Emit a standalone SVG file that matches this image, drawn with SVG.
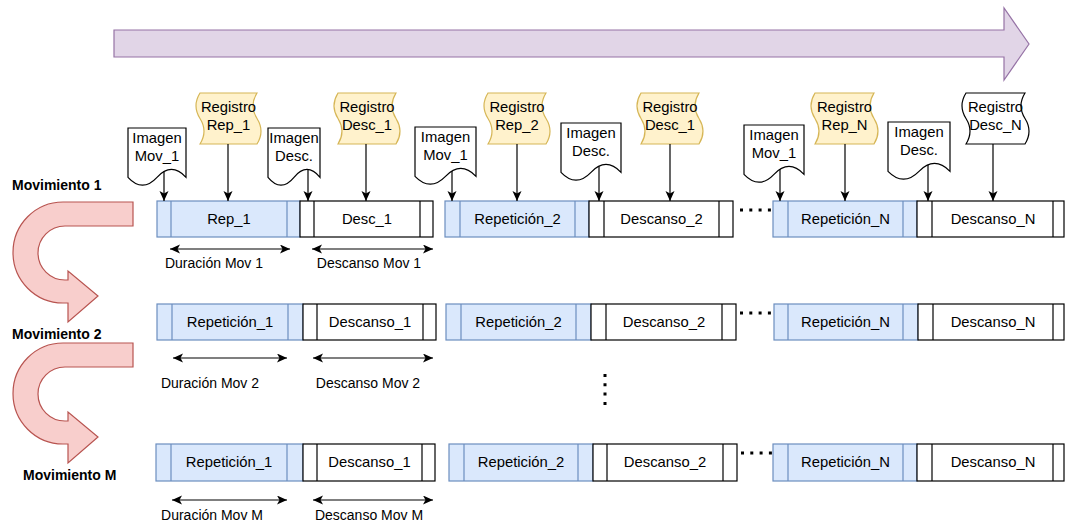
<svg xmlns="http://www.w3.org/2000/svg" width="1065" height="522" viewBox="0 0 1065 522">
  <defs>
    <style>
      text { font-family: "Liberation Sans", Arial, Helvetica, sans-serif; font-size: 14.8px; fill: #000; }
      .c { text-anchor: middle; }
      .b { font-weight: bold; font-size: 14px; }
      .cap { font-size: 14px; }
      .rep { fill: #dae8fc; stroke: #6c8ebf; stroke-width: 1.2; }
      .rep-l { stroke: #6c8ebf; stroke-width: 1.2; }
      .desc { fill: #ffffff; stroke: #000; stroke-width: 1.2; }
      .desc-l { stroke: #000; stroke-width: 1.2; }
      .doc { fill: #ffffff; stroke: #000; stroke-width: 1.2; }
      .tape { fill: #fff2cc; stroke: #d6b656; stroke-width: 1.2; }
      .tape-w { fill: #ffffff; stroke: #000; stroke-width: 1.2; }
      .turn { fill: #f8cecc; stroke: #b85450; stroke-width: 1.2; }
      .flow { fill: #e1d5e7; stroke: #9673a6; stroke-width: 1.2; }
      .conn { stroke: #000; stroke-width: 1.2; fill: none; }
      .span { stroke: #000; stroke-width: 1.2; fill: none; marker-start: url(#ah); marker-end: url(#ah); }
      .down { marker-end: url(#ah); }
      .dots { stroke: #000; stroke-width: 3; stroke-dasharray: 3 6.3; fill: none; }
    </style>
    <marker id="ah" markerWidth="12" markerHeight="10" refX="10" refY="4.5" orient="auto-start-reverse" markerUnits="userSpaceOnUse">
      <path d="M0,0 L10,4.5 L0,9 L2.5,4.5 Z" fill="#000"/>
    </marker>
  </defs>

  <!-- time axis -->
  <g id="time-arrow">
    <path class="flow" d="M114,30 H1004 V8 L1029,44 L1004,80 V57 H114 Z"/>
  </g>

  <!-- movement labels and U-turn arrows -->
  <g id="mov-1-label"><text class="b" x="12" y="190">Movimiento 1</text></g>
  <g id="mov-2-label"><text class="b" x="12" y="339">Movimiento 2</text></g>
  <g id="mov-m-label"><text class="b" x="23" y="480">Movimiento M</text></g>
  <g id="turn-1">
    <path class="turn" d="M133,202 H63 A50,50.5 0 0 0 63,303 H68 V322 L98,296 L68,271 V280 H65 A27,27 0 0 1 65,226 H133 Z"/>
  </g>
  <g id="turn-2">
    <path class="turn" d="M133,343 H63 A50,50.5 0 0 0 63,444 H68 V463 L98,437 L68,412 V421 H65 A27,27 0 0 1 65,367 H133 Z"/>
  </g>

  <!-- image documents -->
  <g id="img-mov1-a">
    <path class="doc" d="M128,128 H186 V177.3 Q171.5,161.6 157,177.3 Q142.5,193 128,177.3 Z"/>
    <text class="c" x="157" y="143">Imagen</text><text class="c" x="157" y="161">Mov_1</text>
  </g>
  <g id="img-desc-a">
    <path class="doc" d="M268,128 H320 V177.3 Q307,161.6 294,177.3 Q281,193 268,177.3 Z"/>
    <text class="c" x="294" y="143">Imagen</text><text class="c" x="294" y="161">Desc.</text>
  </g>
  <g id="img-mov1-b">
    <path class="doc" d="M415,127 H476 V176.3 Q460.75,160.6 445.5,176.3 Q430.25,192 415,176.3 Z"/>
    <text class="c" x="445.5" y="142">Imagen</text><text class="c" x="445.5" y="160">Mov_1</text>
  </g>
  <g id="img-desc-b">
    <path class="doc" d="M561,123 H621 V172.3 Q606,156.6 591,172.3 Q576,188 561,172.3 Z"/>
    <text class="c" x="591" y="138">Imagen</text><text class="c" x="591" y="156">Desc.</text>
  </g>
  <g id="img-mov1-c">
    <path class="doc" d="M744,125 H804 V174.3 Q789,158.6 774,174.3 Q759,190 744,174.3 Z"/>
    <text class="c" x="774" y="140">Imagen</text><text class="c" x="774" y="158">Mov_1</text>
  </g>
  <g id="img-desc-c">
    <path class="doc" d="M888,122 H950 V171.3 Q934.5,155.6 919,171.3 Q903.5,187 888,171.3 Z"/>
    <text class="c" x="919" y="137">Imagen</text><text class="c" x="919" y="155">Desc.</text>
  </g>

  <!-- record tapes -->
  <g id="reg-rep1">
    <path class="tape" d="M200,93 H257 Q249,105.75 257,118.5 Q265,131.25 257,144 H200 Q208,131.25 200,118.5 Q192,105.75 200,93 Z"/>
    <text class="c" x="228.5" y="112">Registro</text><text class="c" x="228.5" y="130">Rep_1</text>
  </g>
  <g id="reg-desc1-a">
    <path class="tape" d="M338,93 H396 Q388,105.75 396,118.5 Q404,131.25 396,144 H338 Q346,131.25 338,118.5 Q330,105.75 338,93 Z"/>
    <text class="c" x="367" y="112">Registro</text><text class="c" x="367" y="130">Desc_1</text>
  </g>
  <g id="reg-rep2">
    <path class="tape" d="M488,93 H546 Q538,105.75 546,118.5 Q554,131.25 546,144 H488 Q496,131.25 488,118.5 Q480,105.75 488,93 Z"/>
    <text class="c" x="517" y="112">Registro</text><text class="c" x="517" y="130">Rep_2</text>
  </g>
  <g id="reg-desc1-b">
    <path class="tape" d="M641,93 H699 Q691,105.75 699,118.5 Q707,131.25 699,144 H641 Q649,131.25 641,118.5 Q633,105.75 641,93 Z"/>
    <text class="c" x="670" y="112">Registro</text><text class="c" x="670" y="130">Desc_1</text>
  </g>
  <g id="reg-repn">
    <path class="tape" d="M815,93 H874 Q866,105.75 874,118.5 Q882,131.25 874,144 H815 Q823,131.25 815,118.5 Q807,105.75 815,93 Z"/>
    <text class="c" x="844.5" y="112">Registro</text><text class="c" x="844.5" y="130">Rep_N</text>
  </g>
  <g id="reg-descn">
    <path class="tape-w" d="M966,93 H1025 Q1017,105.75 1025,118.5 Q1033,131.25 1025,144 H966 Q974,131.25 966,118.5 Q958,105.75 966,93 Z"/>
    <text class="c" x="995.5" y="112">Registro</text><text class="c" x="995.5" y="130">Desc_N</text>
  </g>

  <!-- row 1: movement 1 -->
  <g id="r1-rep1">
    <rect class="rep" x="157" y="201" width="143" height="36"/>
    <line class="rep-l" x1="171" y1="201" x2="171" y2="237"/><line class="rep-l" x1="287" y1="201" x2="287" y2="237"/>
    <text class="c" x="229" y="224">Rep_1</text>
  </g>
  <g id="r1-desc1">
    <rect class="desc" x="300" y="201" width="133" height="36"/>
    <line class="desc-l" x1="314" y1="201" x2="314" y2="237"/><line class="desc-l" x1="420" y1="201" x2="420" y2="237"/>
    <text class="c" x="367" y="224">Desc_1</text>
  </g>
  <g id="r1-rep2">
    <rect class="rep" x="445" y="201" width="144" height="36"/>
    <line class="rep-l" x1="460" y1="201" x2="460" y2="237"/><line class="rep-l" x1="575" y1="201" x2="575" y2="237"/>
    <text class="c" x="517.5" y="224">Repetición_2</text>
  </g>
  <g id="r1-desc2">
    <rect class="desc" x="589" y="201" width="144" height="36"/>
    <line class="desc-l" x1="604" y1="201" x2="604" y2="237"/><line class="desc-l" x1="719" y1="201" x2="719" y2="237"/>
    <text class="c" x="661.5" y="224">Descanso_2</text>
  </g>
  <g id="r1-repn">
    <rect class="rep" x="773" y="201" width="144" height="36"/>
    <line class="rep-l" x1="788" y1="201" x2="788" y2="237"/><line class="rep-l" x1="903" y1="201" x2="903" y2="237"/>
    <text class="c" x="845.5" y="224">Repetición_N</text>
  </g>
  <g id="r1-descn">
    <rect class="desc" x="917" y="201" width="147" height="36"/>
    <line class="desc-l" x1="932" y1="201" x2="932" y2="237"/><line class="desc-l" x1="1053" y1="201" x2="1053" y2="237"/>
    <text class="c" x="993" y="224">Descanso_N</text>
  </g>

  <!-- row 2: movement 2 -->
  <g id="r2-rep1">
    <rect class="rep" x="157" y="304" width="146" height="36"/>
    <line class="rep-l" x1="172" y1="304" x2="172" y2="340"/><line class="rep-l" x1="288" y1="304" x2="288" y2="340"/>
    <text class="c" x="230" y="327">Repetición_1</text>
  </g>
  <g id="r2-desc1">
    <rect class="desc" x="303" y="304" width="133" height="36"/>
    <line class="desc-l" x1="317" y1="304" x2="317" y2="340"/><line class="desc-l" x1="423" y1="304" x2="423" y2="340"/>
    <text class="c" x="370" y="327">Descanso_1</text>
  </g>
  <g id="r2-rep2">
    <rect class="rep" x="446" y="304" width="145" height="36"/>
    <line class="rep-l" x1="461" y1="304" x2="461" y2="340"/><line class="rep-l" x1="576" y1="304" x2="576" y2="340"/>
    <text class="c" x="518.5" y="327">Repetición_2</text>
  </g>
  <g id="r2-desc2">
    <rect class="desc" x="591" y="304" width="145" height="36"/>
    <line class="desc-l" x1="606" y1="304" x2="606" y2="340"/><line class="desc-l" x1="722" y1="304" x2="722" y2="340"/>
    <text class="c" x="664" y="327">Descanso_2</text>
  </g>
  <g id="r2-repn">
    <rect class="rep" x="774" y="304" width="144" height="36"/>
    <line class="rep-l" x1="788" y1="304" x2="788" y2="340"/><line class="rep-l" x1="903" y1="304" x2="903" y2="340"/>
    <text class="c" x="845.5" y="327">Repetición_N</text>
  </g>
  <g id="r2-descn">
    <rect class="desc" x="918" y="304" width="146" height="36"/>
    <line class="desc-l" x1="933" y1="304" x2="933" y2="340"/><line class="desc-l" x1="1053" y1="304" x2="1053" y2="340"/>
    <text class="c" x="993" y="327">Descanso_N</text>
  </g>

  <!-- row 3: movement M -->
  <g id="r3-rep1">
    <rect class="rep" x="156" y="444" width="147" height="37"/>
    <line class="rep-l" x1="171" y1="444" x2="171" y2="481"/><line class="rep-l" x1="287" y1="444" x2="287" y2="481"/>
    <text class="c" x="229" y="467">Repetición_1</text>
  </g>
  <g id="r3-desc1">
    <rect class="desc" x="303" y="444" width="132" height="37"/>
    <line class="desc-l" x1="317" y1="444" x2="317" y2="481"/><line class="desc-l" x1="422" y1="444" x2="422" y2="481"/>
    <text class="c" x="369.5" y="467">Descanso_1</text>
  </g>
  <g id="r3-rep2">
    <rect class="rep" x="449" y="444" width="144" height="37"/>
    <line class="rep-l" x1="464" y1="444" x2="464" y2="481"/><line class="rep-l" x1="578" y1="444" x2="578" y2="481"/>
    <text class="c" x="521" y="467">Repetición_2</text>
  </g>
  <g id="r3-desc2">
    <rect class="desc" x="593" y="444" width="144" height="37"/>
    <line class="desc-l" x1="607" y1="444" x2="607" y2="481"/><line class="desc-l" x1="723" y1="444" x2="723" y2="481"/>
    <text class="c" x="665" y="467">Descanso_2</text>
  </g>
  <g id="r3-repn">
    <rect class="rep" x="773" y="444" width="144" height="37"/>
    <line class="rep-l" x1="788" y1="444" x2="788" y2="481"/><line class="rep-l" x1="903" y1="444" x2="903" y2="481"/>
    <text class="c" x="845.5" y="467">Repetición_N</text>
  </g>
  <g id="r3-descn">
    <rect class="desc" x="917" y="444" width="147" height="37"/>
    <line class="desc-l" x1="932" y1="444" x2="932" y2="481"/><line class="desc-l" x1="1053" y1="444" x2="1053" y2="481"/>
    <text class="c" x="993" y="467">Descanso_N</text>
  </g>

  <!-- duration captions -->
  <g id="captions">
    <text class="c cap" x="214" y="268">Duración Mov 1</text>
    <text class="c cap" x="369" y="268">Descanso Mov 1</text>
    <text class="c cap" x="210" y="388">Duración Mov 2</text>
    <text class="c cap" x="368" y="388">Descanso Mov 2</text>
    <text class="c cap" x="212" y="520">Duración Mov M</text>
    <text class="c cap" x="369" y="520">Descanso Mov M</text>
  </g>

  <!-- connectors -->
  <g id="connectors">
    <line class="conn down" x1="164" y1="171.6" x2="164" y2="201"/>
    <line class="conn down" x1="228" y1="144" x2="228" y2="201"/>
    <line class="conn down" x1="308" y1="169.5" x2="308" y2="201"/>
    <line class="conn down" x1="366" y1="144" x2="366" y2="201"/>
    <line class="conn down" x1="452" y1="171" x2="452" y2="201"/>
    <line class="conn down" x1="517" y1="144" x2="517" y2="201"/>
    <line class="conn down" x1="599" y1="166.2" x2="599" y2="201"/>
    <line class="conn down" x1="670" y1="144" x2="670" y2="201"/>
    <line class="conn down" x1="780" y1="169.3" x2="780" y2="201"/>
    <line class="conn down" x1="845" y1="144" x2="845" y2="201"/>
    <line class="conn down" x1="928" y1="164.8" x2="928" y2="201"/>
    <line class="conn down" x1="993" y1="144" x2="993" y2="201"/>

    <line class="span" x1="170" y1="249" x2="290" y2="249"/>
    <line class="span" x1="312" y1="249" x2="433" y2="249"/>
    <line class="span" x1="173" y1="358" x2="287" y2="358"/>
    <line class="span" x1="313" y1="358" x2="433" y2="358"/>
    <line class="span" x1="172" y1="500" x2="287" y2="500"/>
    <line class="span" x1="313" y1="500" x2="433" y2="500"/>

    <line class="dots" x1="740" y1="210" x2="771" y2="210"/>
    <line class="dots" x1="740" y1="313" x2="771" y2="313"/>
    <line class="dots" x1="741" y1="453" x2="772" y2="453"/>
    <line class="dots" x1="605" y1="374" x2="605" y2="405"/>
  </g>
</svg>
